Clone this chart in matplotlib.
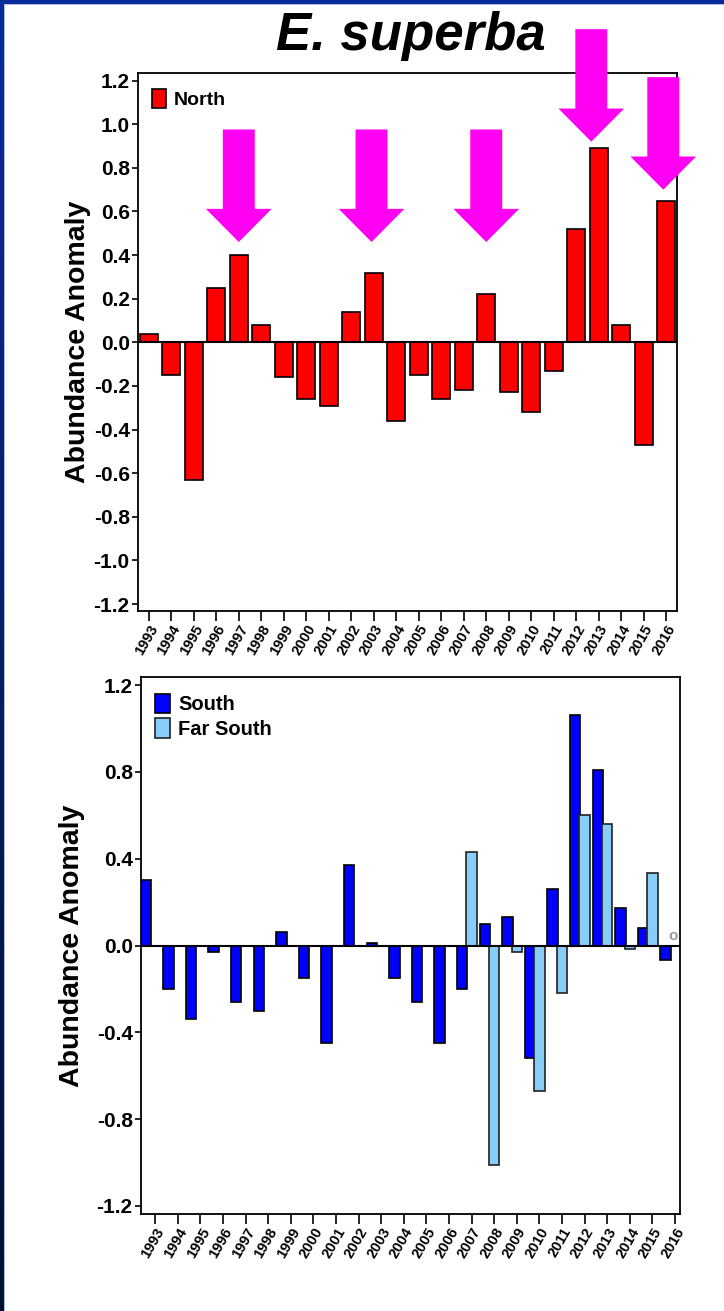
import numpy as np
import matplotlib
matplotlib.use("Agg")
import matplotlib.pyplot as plt
from matplotlib.patches import Patch, Polygon, Rectangle

plt.rcParams['font.family'] = ['Liberation Sans', 'DejaVu Sans']
plt.rcParams['font.weight'] = 'bold'

# ---------------- data ----------------
years = list(range(1993, 2017))
year_labels = [str(y) for y in years]

north = [0.04, -0.15, -0.63, 0.25, 0.40, 0.08, -0.16, -0.26, -0.29, 0.14,
         0.32, -0.36, -0.15, -0.26, -0.22, 0.22, -0.23, -0.32, -0.13, 0.52,
         0.89, 0.08, -0.47, 0.65]

south = [0.30, -0.20, -0.34, -0.03, -0.26, -0.30, 0.06, -0.15, -0.45, 0.37,
         0.01, -0.15, -0.26, -0.45, -0.20, 0.10, 0.13, -0.52, 0.26, 1.06,
         0.81, 0.175, 0.08, -0.065]

far_south_years = [2007, 2008, 2009, 2010, 2011, 2012, 2013, 2014, 2015]
far_south = [0.43, -1.01, -0.03, -0.67, -0.22, 0.60, 0.56, -0.015, 0.335]

north_ticks = [1.2, 1.0, 0.8, 0.6, 0.4, 0.2, 0.0, -0.2, -0.4, -0.6, -0.8, -1.0, -1.2]
south_ticks = [1.2, 0.8, 0.4, 0.0, -0.4, -0.8, -1.2]

arrow_years = [1997, 2003, 2008, 2013, 2016]
arrow_dx = [0.0, -0.1, 0.0, -0.33, -0.13]
arrow_tips = [0.46, 0.46, 0.46, 0.92, 0.70]

# ---------------- figure ----------------
W, H = 724, 1311
fig = plt.figure(figsize=(W / 100, H / 100), dpi=100)
fig.patch.set_facecolor('white')

# border (blue band at top and left)
bax = fig.add_axes([0, 0, 1, 1], zorder=-10)
bax.set_xlim(0, W)
bax.set_ylim(H, 0)
bax.axis('off')
grad = np.linspace(0, 1, 256).reshape(-1, 1)
c_top = np.array([0x0a, 0x2a, 0x9c]) / 255
c_bot = np.array([0x03, 0x10, 0x30]) / 255
img = (c_top[None, None, :] * (1 - grad[..., None]) + c_bot[None, None, :] * grad[..., None])
bax.imshow(img, extent=[0, 4, H, 0], aspect='auto')
bax.add_patch(Rectangle((4, 0), 1.2, H, color='#aebde6', lw=0))
bax.add_patch(Rectangle((0, 0), W, 4, color='#0a2a9c', lw=0))
bax.add_patch(Rectangle((4, 4), W, 1.2, color='#aebde6', lw=0))

# title
fig.text(411 / W, 1 - 36 / H, 'E. superba', ha='center', va='center',
         fontsize=38, fontweight='bold', fontstyle='italic')

tick_fs = 15
xt_fs = 10.5
lab_fs = 20.5


def style_axes(ax):
    for s in ax.spines.values():
        s.set_linewidth(1.3)
        s.set_color('black')
    ax.tick_params(axis='y', direction='out', length=4, width=1.2, labelsize=tick_fs, pad=2)
    ax.tick_params(axis='x', direction='out', length=7, width=1.2, labelsize=xt_fs, pad=1)
    for t in ax.get_yticklabels():
        t.set_fontweight('bold')
    for t in ax.get_xticklabels():
        t.set_fontweight('bold')
        t.set_rotation(60)
        t.set_ha('right')
        t.set_va('top')
        t.set_rotation_mode('anchor')


# ---------------- top panel ----------------
ax1 = fig.add_axes([138 / W, 1 - 611 / H, (677 - 138) / W, (611 - 73) / H])
x = np.arange(len(years))
ax1.bar(x, north, width=0.8, color='#ff0000', edgecolor='black', linewidth=1.2, zorder=3)
ax1.axhline(0, color='black', lw=1.5, zorder=4)
ax1.set_xlim(-0.48, 23.48)
ax1.set_ylim(-1.232, 1.235)
ax1.set_yticks(north_ticks)
ax1.set_yticklabels([f'{v:.1f}' for v in north_ticks])
ax1.set_xticks(x)
ax1.set_xticklabels(year_labels)
ax1.set_ylabel('Abundance Anomaly', fontsize=lab_fs, fontweight='bold', labelpad=2)
style_axes(ax1)
ax1.legend(handles=[Patch(facecolor='#ff0000', edgecolor='black', lw=1.2, label='North')],
           loc='upper left', frameon=False, prop={'weight': 'bold', 'size': 14},
           handlelength=0.75, handleheight=1.1, handletextpad=0.4,
           borderaxespad=0.3, bbox_to_anchor=(0.0, 0.995))

# arrows
shaft_hw = 0.71
head_hw = 1.46
head_len = 0.152
tot_len = 0.516
for yr, dx, tip in zip(arrow_years, arrow_dx, arrow_tips):
    cx = years.index(yr) + dx
    pts = [(cx - shaft_hw, tip + tot_len), (cx + shaft_hw, tip + tot_len),
           (cx + shaft_hw, tip + head_len), (cx + head_hw, tip + head_len),
           (cx, tip), (cx - head_hw, tip + head_len),
           (cx - shaft_hw, tip + head_len)]
    ax1.add_patch(Polygon(pts, closed=True, facecolor='#ff00f2', edgecolor='none',
                          clip_on=False, zorder=6))

# ---------------- bottom panel ----------------
ax2 = fig.add_axes([141 / W, 1 - 1214 / H, (680 - 141) / W, (1214 - 677) / H])
bw = 0.46
ax2.bar(x - 0.42, south, width=bw, color='#0000ff', edgecolor='black', linewidth=1.2,
        zorder=3, label='South')
fsx = np.array([years.index(y) for y in far_south_years])
ax2.bar(fsx, far_south, width=bw, color='#87cdf8', edgecolor='#222222', linewidth=1.2,
        zorder=3, label='Far South')
ax2.axhline(0, color='black', lw=1.5, zorder=4)
ax2.text(years.index(2016) - 0.08, 0.045, 'o', color='#999999', fontsize=11, ha='center',
         va='center', fontweight='bold', zorder=5)
ax2.set_xlim(-0.63, 23.22)
ax2.set_ylim(-1.237, 1.237)
ax2.set_yticks(south_ticks)
ax2.set_yticklabels([f'{v:.1f}' for v in south_ticks])
ax2.set_xticks(x)
ax2.set_xticklabels(year_labels)
ax2.set_ylabel('Abundance Anomaly', fontsize=lab_fs, fontweight='bold', labelpad=8)
style_axes(ax2)
ax2.legend(loc='upper left', frameon=False, prop={'weight': 'bold', 'size': 14.5},
           handlelength=0.75, handleheight=1.1, handletextpad=0.4, labelspacing=0.2,
           borderaxespad=0.3, bbox_to_anchor=(0.0, 0.995))

fig.savefig('out.png', dpi=100)
